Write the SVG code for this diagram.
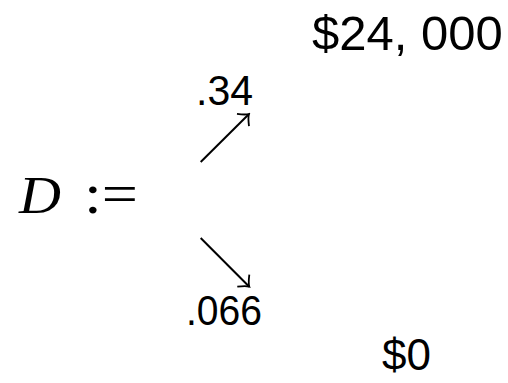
<svg xmlns="http://www.w3.org/2000/svg" width="508" height="383" viewBox="0 0 508 383">
<style>
.sans{font-family:"Liberation Sans",Arial,sans-serif;fill:#000}
.serif{font-family:"Liberation Serif","Times New Roman",serif;fill:#000}
.edge{stroke:#000;stroke-width:2;fill:none;marker-end:url(#tip)}
</style>
<defs>
<marker id="tip" markerUnits="userSpaceOnUse" markerWidth="14" markerHeight="22" viewBox="-12 -11 14 22" refX="0" refY="0" orient="auto">
<path d="M-8.5,-8.5 Q-3,-1.5 0,0 Q-3,1.5 -8.5,8.5" stroke="#000" stroke-width="1.8" fill="none"/>
</marker>
</defs>
<rect width="508" height="383" fill="#fff"/>
<g id="root">
<text class="serif" x="19" y="213" font-size="53" font-style="italic" textLength="42" lengthAdjust="spacingAndGlyphs">D</text>
<text class="serif" x="84" y="213" font-size="56" textLength="54" lengthAdjust="spacingAndGlyphs">:=</text>
</g>
<g id="outcome-high">
<text class="sans" x="312" y="50" font-size="49">$24, 000</text>
</g>
<g id="outcome-low">
<text class="sans" x="382" y="370" font-size="44">$0</text>
</g>
<g id="connectors">
<line class="edge" x1="200.7" y1="162" x2="249" y2="114"/>
<line class="edge" x1="200.7" y1="238" x2="249.3" y2="286.7"/>
<text class="sans" x="196" y="105" font-size="43" textLength="57" lengthAdjust="spacingAndGlyphs">.34</text>
<text class="sans" x="186" y="325" font-size="43" textLength="76" lengthAdjust="spacingAndGlyphs">.066</text>
</g>
</svg>
